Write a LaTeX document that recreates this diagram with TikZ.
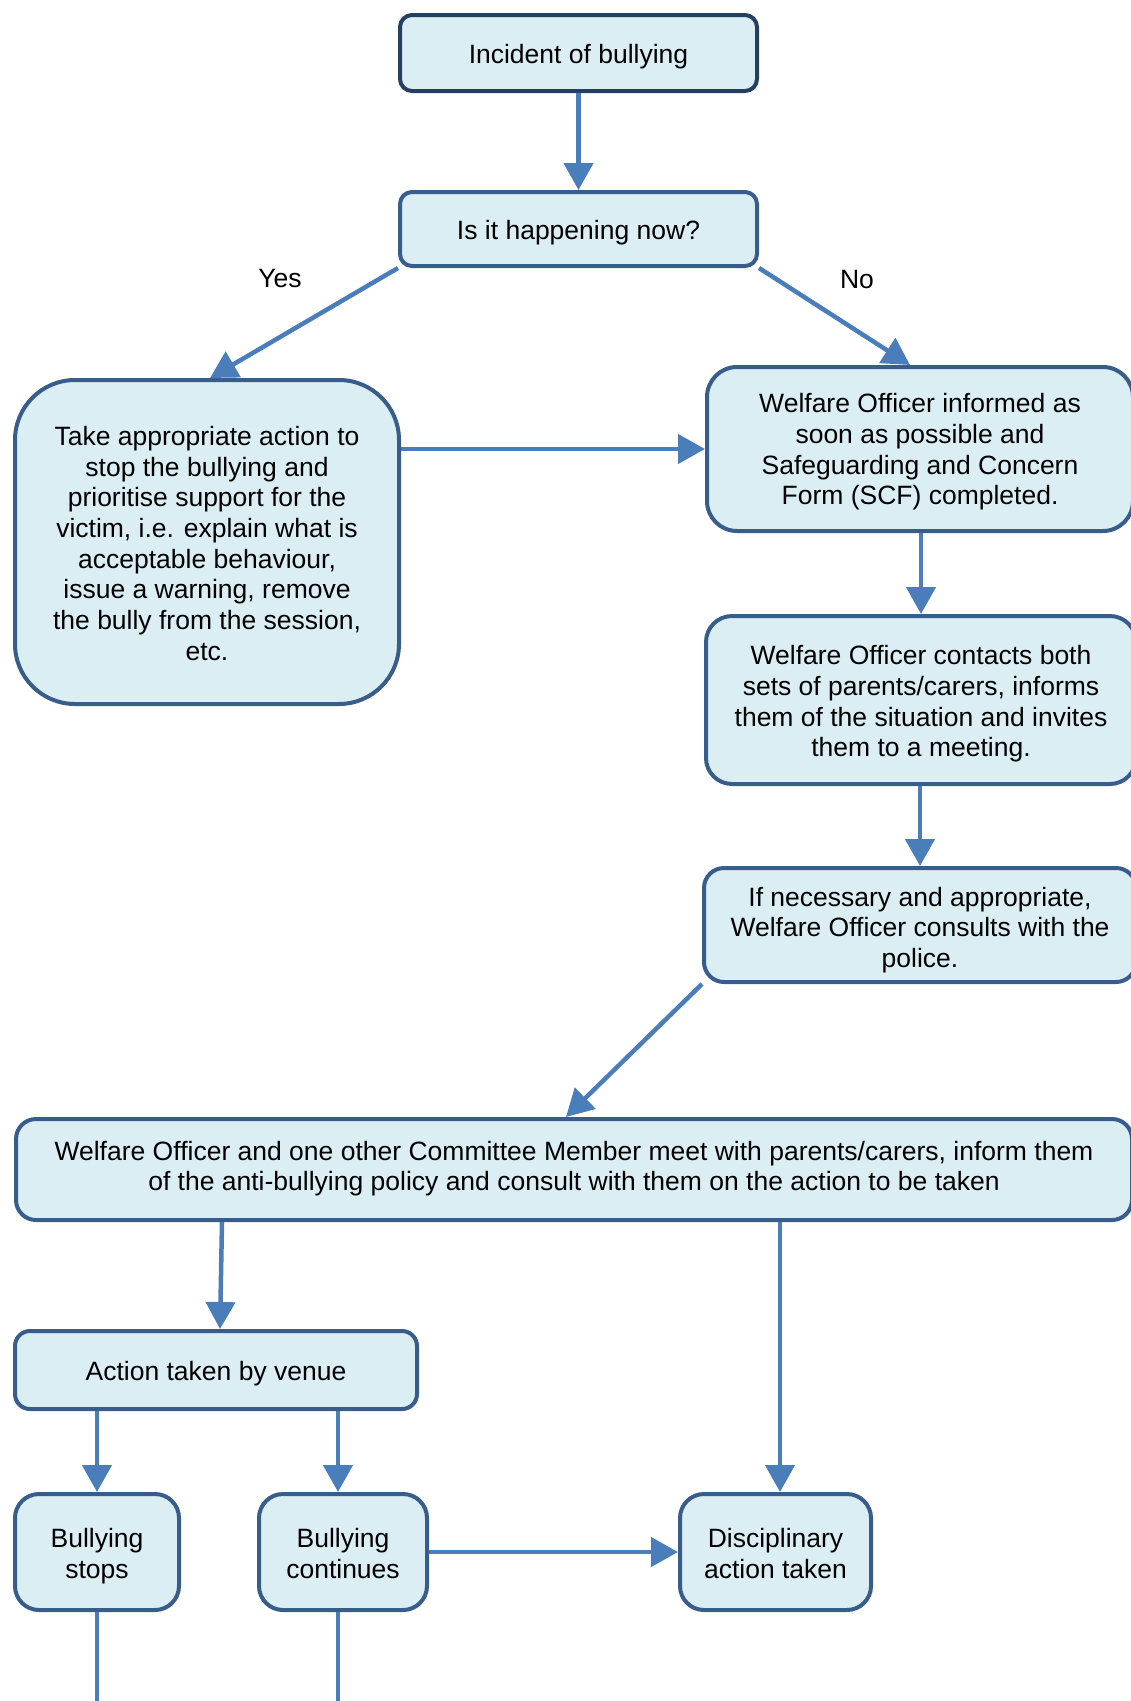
\documentclass[tikz,border=0pt]{standalone}
\usepackage{fontspec}
\setmainfont{Liberation Sans}
\usetikzlibrary{arrows.meta,calc}
\definecolor{boxfill}{HTML}{DBEEF4}
\definecolor{boxline}{HTML}{385D8A}
\definecolor{topline}{HTML}{243F60}
\definecolor{arrowc}{HTML}{4A7EBB}
\newcommand\bstr{\rule[-7pt]{0pt}{27pt}}
\begin{document}
\begin{tikzpicture}[x=1pt,y=-1pt,
  box/.style={draw=boxline, fill=boxfill, line width=4pt, inner sep=0pt},
  txt/.style={align=center, font=\fontsize{26.5}{30.7}\selectfont, inner sep=0pt, text=black, yshift=-4.3pt},
  lbl/.style={font=\fontsize{26.5}{30.7}\selectfont, inner sep=0pt, text=black},
  conn/.style={draw=arrowc, line width=4.5pt, -{Triangle[width=29pt,length=27pt]}},
  plainconn/.style={draw=arrowc, line width=4.5pt}]
\useasboundingbox (0,0) rectangle (1131,1701);
\clip (0,0) rectangle (1131,1701);

\node[box, draw=topline, rounded corners=12pt, minimum width=357pt, minimum height=76pt,
  label={[txt]center:{\bstr Incident of bullying\bstr}}] (inc) at (578.5,53) {};
\node[box, rounded corners=12pt, minimum width=357pt, minimum height=74pt,
  label={[txt]center:{\bstr Is it happening now?\bstr}}] (now) at (578.5,229) {};
\node[box, rounded corners=60pt, minimum width=384pt, minimum height=324pt,
  label={[txt]center:{\bstr Take appropriate action to\\stop the bullying and\\prioritise support for the\\victim, i.e. explain what is\\acceptable behaviour,\\issue a warning, remove\\the bully from the session,\\etc.\bstr}}] (act) at (207,542) {};
\node[box, rounded corners=30pt, minimum width=426pt, minimum height=164pt,
  label={[txt, yshift=1pt]center:{\bstr Welfare Officer informed as\\soon as possible and\\Safeguarding and Concern\\Form (SCF) completed.\bstr}}] (inf) at (920,449) {};
\node[box, rounded corners=26pt, minimum width=430pt, minimum height=168pt,
  label={[txt]center:{\bstr Welfare Officer contacts both\\sets of parents/carers, informs\\them of the situation and invites\\them to a meeting.\bstr}}] (par) at (921,700) {};
\node[box, rounded corners=20pt, minimum width=432pt, minimum height=114pt,
  label={[txt, yshift=-1pt]center:{\bstr If necessary and appropriate,\\Welfare Officer consults with the\\police.\bstr}}] (pol) at (920,925) {};
\node[box, rounded corners=20pt, minimum width=1116pt, minimum height=101pt,
  label={[txt, yshift=5.3pt]center:{Welfare Officer and one other Committee Member meet with parents/carers, inform them\\of the anti-bullying policy and consult with them on the action to be taken}}] (meet) at (574,1169.5) {};
\node[box, rounded corners=15pt, minimum width=402pt, minimum height=78pt,
  label={[txt]center:{\bstr Action taken by venue\bstr}}] (venue) at (216,1370) {};
\node[box, rounded corners=24pt, minimum width=164pt, minimum height=116pt,
  label={[txt]center:{\bstr Bullying\\stops\bstr}}] (stops) at (97,1552) {};
\node[box, rounded corners=24pt, minimum width=168pt, minimum height=116pt,
  label={[txt]center:{\bstr Bullying\\continues\bstr}}] (cont) at (343,1552) {};
\node[box, rounded corners=24pt, minimum width=191pt, minimum height=116pt,
  label={[txt]center:{\bstr Disciplinary\\action taken\bstr}}] (disc) at (775.5,1552) {};

\node[lbl] (yes) at (280,279) {Yes};
\node[lbl] (no) at (857,280) {No};

\coordinate (stopsend) at (97,1710);
\coordinate (contend) at (338,1710);

\draw[conn] (inc.south) -- (now.north);
\draw[conn] (now.south west) -- ([xshift=3pt]act.north);
\draw[conn] (now.south east) -- ([xshift=-10pt]inf.north);
\draw[conn] (act.east |- inf.west) -- (inf.west);
\draw[conn] (inf.south -| par.north) -- (par.north);
\draw[conn] (par.south -| pol.north) -- (pol.north);
\draw[conn] (pol.south west) -- ([xshift=-8pt]meet.north);
\draw[conn] ([xshift=6pt]venue.north |- meet.south) -- ([xshift=4pt]venue.north);
\draw[conn] ([xshift=4.5pt]disc.north |- meet.south) -- ([xshift=4.5pt]disc.north);
\draw[conn] (stops.north |- venue.south) -- (stops.north);
\draw[conn] ([xshift=-5pt]cont.north |- venue.south) -- ([xshift=-5pt]cont.north);
\draw[conn] (cont.east) -- (disc.west);
\draw[plainconn] (stops.south) -- (stopsend);
\draw[plainconn] ([xshift=-5pt]cont.south) -- (contend);
\end{tikzpicture}
\end{document}
